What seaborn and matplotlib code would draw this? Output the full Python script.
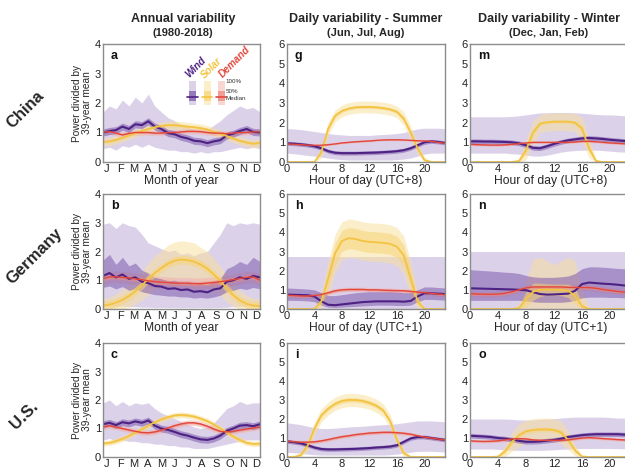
import numpy as np
import matplotlib
matplotlib.use('Agg')
import matplotlib.pyplot as plt
import seaborn as sns
from matplotlib.patches import Rectangle

sns.set_theme(style='white')
plt.rcParams['font.family'] = ['Liberation Sans', 'DejaVu Sans']

# ---- x axes ----
days = [1, 16, 31, 46, 61, 76, 91, 106, 121, 136, 152, 167, 182, 197, 212, 227, 243, 258, 273, 288, 303, 318, 334, 349, 365]
month_labels = ['J', 'F', 'M', 'A', 'M', 'J', 'J', 'A', 'S', 'O', 'N', 'D']
hours = list(range(24))
hour_ticks = [0, 4, 8, 12, 16, 20]

# ---- annual variability (median, bands) ----
# China
wind_a_med = [1.0, 1.05, 1.08, 1.2, 1.12, 1.28, 1.25, 1.38, 1.2, 1.12, 0.98, 0.94, 0.85, 0.8, 0.72, 0.7, 0.64, 0.7, 0.74, 0.9, 0.96, 1.05, 1.12, 1.02, 1.0]
wind_a_lo100 = [0.45, 0.5, 0.4, 0.55, 0.5, 0.6, 0.5, 0.6, 0.5, 0.45, 0.4, 0.4, 0.35, 0.35, 0.3, 0.35, 0.3, 0.35, 0.35, 0.4, 0.45, 0.5, 0.45, 0.5, 0.45]
wind_a_hi100 = [1.7, 1.9, 1.8, 2.1, 1.9, 2.2, 2.0, 2.3, 1.9, 1.7, 1.5, 1.4, 1.25, 1.2, 1.1, 1.15, 1.1, 1.25, 1.4, 1.6, 1.75, 1.9, 1.8, 1.85, 1.7]
solar_a_med = [0.68, 0.7, 0.75, 0.82, 0.9, 0.98, 1.05, 1.12, 1.18, 1.22, 1.25, 1.25, 1.23, 1.2, 1.18, 1.15, 1.1, 1.02, 0.95, 0.88, 0.8, 0.72, 0.66, 0.62, 0.65]
demand_a_med = [1.02, 1.03, 0.98, 0.92, 0.97, 1.0, 1.0, 1.0, 0.98, 0.98, 1.0, 1.0, 1.02, 1.04, 1.04, 1.03, 1.0, 0.98, 0.98, 0.96, 0.98, 1.0, 1.0, 1.02, 1.03]

# Germany
wind_b_med = [1.15, 1.25, 1.1, 1.2, 1.05, 1.1, 0.95, 0.9, 0.8, 0.78, 0.7, 0.72, 0.66, 0.68, 0.6, 0.62, 0.58, 0.68, 0.72, 0.95, 1.0, 1.1, 1.05, 1.15, 1.1]
wind_b_lo50 = [0.75, 0.8, 0.7, 0.78, 0.65, 0.7, 0.6, 0.55, 0.5, 0.48, 0.45, 0.45, 0.42, 0.42, 0.38, 0.4, 0.38, 0.42, 0.48, 0.6, 0.65, 0.72, 0.68, 0.75, 0.7]
wind_b_hi50 = [1.7, 1.9, 1.55, 1.8, 1.5, 1.6, 1.35, 1.25, 1.1, 1.05, 0.98, 1.0, 0.9, 0.92, 0.85, 0.88, 0.85, 0.95, 1.05, 1.4, 1.5, 1.65, 1.55, 1.8, 1.65]
wind_b_lo100 = [0.08, 0.1, 0.08, 0.1, 0.08, 0.08, 0.06, 0.06, 0.05, 0.05, 0.05, 0.05, 0.04, 0.05, 0.04, 0.05, 0.04, 0.05, 0.05, 0.06, 0.08, 0.08, 0.1, 0.08, 0.08]
wind_b_hi100 = [2.95, 3.0, 2.8, 3.0, 2.9, 2.85, 2.6, 2.3, 2.2, 2.1, 2.0, 2.05, 1.9, 1.95, 1.85, 1.95, 2.0, 2.3, 2.6, 3.0, 2.9, 3.0, 2.95, 3.0, 2.95]
solar_b_med = [0.12, 0.15, 0.22, 0.32, 0.45, 0.62, 0.82, 1.05, 1.25, 1.42, 1.58, 1.68, 1.72, 1.7, 1.65, 1.55, 1.4, 1.2, 0.98, 0.72, 0.48, 0.3, 0.18, 0.12, 0.1]
solar_b_w100 = [0.25, 0.25, 0.3, 0.35, 0.4, 0.45, 0.5, 0.55, 0.6, 0.6, 0.65, 0.65, 0.65, 0.65, 0.65, 0.6, 0.6, 0.55, 0.5, 0.45, 0.4, 0.35, 0.3, 0.25, 0.25]
demand_b_med = [1.05, 1.12, 1.12, 1.1, 1.08, 1.05, 1.02, 0.98, 0.95, 0.93, 0.92, 0.9, 0.9, 0.9, 0.88, 0.88, 0.9, 0.92, 0.95, 0.98, 1.02, 1.06, 1.1, 1.12, 1.0]

# U.S.
wind_c_med = [1.15, 1.2, 1.12, 1.22, 1.18, 1.25, 1.2, 1.28, 1.1, 1.0, 0.95, 0.88, 0.8, 0.75, 0.68, 0.62, 0.6, 0.65, 0.75, 0.92, 1.0, 1.1, 1.12, 1.08, 1.15]
wind_c_lo100 = [0.6, 0.65, 0.55, 0.6, 0.55, 0.55, 0.5, 0.5, 0.45, 0.45, 0.4, 0.4, 0.35, 0.35, 0.3, 0.3, 0.3, 0.35, 0.4, 0.45, 0.5, 0.55, 0.6, 0.6, 0.6]
wind_c_hi100 = [1.9, 2.0, 1.8, 1.95, 1.8, 1.9, 1.85, 1.9, 1.7, 1.55, 1.45, 1.35, 1.25, 1.15, 1.05, 1.0, 1.05, 1.2, 1.45, 1.7, 1.8, 1.95, 1.85, 1.9, 1.9]
solar_c_med = [0.48, 0.5, 0.56, 0.64, 0.74, 0.86, 0.98, 1.1, 1.22, 1.32, 1.4, 1.46, 1.48, 1.46, 1.42, 1.35, 1.26, 1.14, 1.0, 0.86, 0.72, 0.6, 0.5, 0.46, 0.47]
demand_c_med = [1.05, 1.1, 1.05, 1.0, 0.95, 0.9, 0.86, 0.85, 0.88, 0.94, 1.02, 1.1, 1.16, 1.2, 1.2, 1.16, 1.08, 0.98, 0.9, 0.88, 0.9, 0.94, 0.98, 1.02, 1.05]

# ---- daily variability, summer ----
wind_g_med = [0.95, 0.93, 0.9, 0.86, 0.8, 0.7, 0.55, 0.47, 0.45, 0.45, 0.45, 0.46, 0.47, 0.48, 0.5, 0.52, 0.55, 0.6, 0.7, 0.85, 1.0, 1.05, 1.02, 0.97]
wind_g_lo100 = [0.45, 0.42, 0.38, 0.33, 0.3, 0.25, 0.2, 0.15, 0.12, 0.1, 0.1, 0.1, 0.1, 0.1, 0.1, 0.1, 0.12, 0.15, 0.2, 0.3, 0.4, 0.45, 0.45, 0.45]
wind_g_hi100 = [1.7, 1.68, 1.65, 1.6, 1.55, 1.5, 1.45, 1.4, 1.38, 1.35, 1.35, 1.35, 1.35, 1.38, 1.4, 1.42, 1.45, 1.5, 1.6, 1.68, 1.72, 1.72, 1.72, 1.7]
solar_g_med = [0, 0, 0, 0, 0, 0.5, 1.7, 2.35, 2.6, 2.72, 2.78, 2.8, 2.8, 2.78, 2.74, 2.68, 2.55, 2.2, 1.5, 0.7, 0.1, 0, 0, 0]
solar_g_w50 = [0, 0, 0, 0, 0, 0.1, 0.12, 0.1, 0.08, 0.08, 0.08, 0.08, 0.08, 0.08, 0.08, 0.08, 0.1, 0.12, 0.12, 0.1, 0.05, 0, 0, 0]
solar_g_w100 = [0, 0, 0, 0, 0.05, 0.3, 0.35, 0.3, 0.3, 0.3, 0.3, 0.3, 0.3, 0.3, 0.3, 0.3, 0.3, 0.35, 0.35, 0.3, 0.15, 0.02, 0, 0]
demand_g_med = [0.92, 0.9, 0.88, 0.86, 0.85, 0.85, 0.88, 0.92, 0.97, 1.0, 1.03, 1.05, 1.07, 1.1, 1.12, 1.13, 1.13, 1.12, 1.1, 1.08, 1.07, 1.05, 1.0, 0.95]

wind_h_med = [0.75, 0.74, 0.73, 0.72, 0.65, 0.4, 0.22, 0.2, 0.24, 0.28, 0.32, 0.36, 0.38, 0.4, 0.4, 0.4, 0.4, 0.38, 0.42, 0.65, 0.82, 0.82, 0.8, 0.78]
wind_h_lo50 = [0.45, 0.45, 0.44, 0.42, 0.38, 0.2, 0.1, 0.08, 0.1, 0.12, 0.14, 0.16, 0.18, 0.2, 0.2, 0.2, 0.18, 0.18, 0.2, 0.38, 0.5, 0.5, 0.48, 0.46]
wind_h_hi50 = [1.1, 1.08, 1.06, 1.04, 1.0, 0.85, 0.7, 0.7, 0.75, 0.8, 0.85, 0.88, 0.9, 0.9, 0.9, 0.9, 0.88, 0.85, 0.85, 1.0, 1.15, 1.15, 1.12, 1.1]
wind_h_lo100 = [0.02] * 24
wind_h_hi100 = [2.7] * 24
solar_h_med = [0, 0, 0, 0, 0, 0.4, 1.6, 2.9, 3.55, 3.7, 3.65, 3.55, 3.5, 3.48, 3.45, 3.4, 3.25, 2.8, 1.6, 0.4, 0, 0, 0, 0]
solar_h_w50 = [0, 0, 0, 0, 0, 0.2, 0.5, 0.55, 0.55, 0.55, 0.55, 0.55, 0.55, 0.55, 0.55, 0.55, 0.55, 0.55, 0.5, 0.2, 0, 0, 0, 0]
solar_h_w100 = [0, 0, 0, 0, 0.05, 0.4, 0.9, 1.0, 1.0, 1.0, 1.0, 1.0, 1.0, 1.0, 1.0, 1.0, 1.0, 1.0, 0.9, 0.4, 0.05, 0, 0, 0]
demand_h_med = [0.72, 0.7, 0.68, 0.68, 0.7, 0.75, 0.85, 0.95, 1.0, 1.02, 1.02, 1.02, 1.0, 1.0, 0.98, 0.97, 0.96, 0.95, 0.92, 0.88, 0.85, 0.82, 0.78, 0.75]

wind_i_med = [0.82, 0.78, 0.72, 0.62, 0.5, 0.42, 0.4, 0.4, 0.41, 0.42, 0.43, 0.45, 0.47, 0.5, 0.52, 0.55, 0.62, 0.8, 0.98, 1.05, 1.05, 1.0, 0.95, 0.9]
wind_i_lo100 = [0.25, 0.22, 0.2, 0.15, 0.12, 0.1, 0.1, 0.1, 0.1, 0.1, 0.1, 0.1, 0.1, 0.1, 0.1, 0.12, 0.15, 0.2, 0.25, 0.3, 0.3, 0.3, 0.28, 0.26]
wind_i_hi100 = [1.8, 1.75, 1.7, 1.62, 1.55, 1.5, 1.5, 1.52, 1.55, 1.58, 1.6, 1.62, 1.65, 1.68, 1.7, 1.72, 1.75, 1.8, 1.85, 1.9, 1.9, 1.9, 1.88, 1.85]
solar_i_med = [0, 0, 0.1, 0.6, 1.5, 2.2, 2.55, 2.8, 2.95, 3.0, 3.0, 2.95, 2.85, 2.7, 2.45, 1.9, 0.9, 0.2, 0, 0, 0, 0, 0, 0]
solar_i_w50 = [0, 0, 0.05, 0.1, 0.12, 0.12, 0.12, 0.12, 0.12, 0.12, 0.12, 0.12, 0.12, 0.12, 0.12, 0.12, 0.12, 0.08, 0, 0, 0, 0, 0, 0]
solar_i_w100 = [0, 0.02, 0.15, 0.3, 0.35, 0.35, 0.35, 0.35, 0.35, 0.35, 0.35, 0.35, 0.35, 0.35, 0.35, 0.35, 0.3, 0.2, 0.05, 0, 0, 0, 0, 0]
demand_i_med = [0.85, 0.8, 0.78, 0.78, 0.8, 0.85, 0.92, 1.0, 1.07, 1.12, 1.18, 1.22, 1.26, 1.28, 1.3, 1.3, 1.28, 1.25, 1.2, 1.12, 1.05, 1.0, 0.95, 0.9]

# ---- daily variability, winter ----
wind_m_med = [1.05, 1.05, 1.04, 1.04, 1.03, 1.02, 1.0, 0.95, 0.85, 0.72, 0.7, 0.8, 0.92, 1.02, 1.1, 1.15, 1.2, 1.22, 1.2, 1.17, 1.13, 1.1, 1.07, 1.05]
wind_m_lo100 = [0.45, 0.45, 0.45, 0.45, 0.45, 0.45, 0.42, 0.4, 0.35, 0.3, 0.3, 0.35, 0.42, 0.5, 0.55, 0.58, 0.6, 0.6, 0.6, 0.58, 0.55, 0.52, 0.5, 0.48]
wind_m_hi100 = [2.3, 2.3, 2.3, 2.3, 2.3, 2.3, 2.32, 2.35, 2.4, 2.45, 2.5, 2.5, 2.52, 2.52, 2.52, 2.5, 2.48, 2.45, 2.42, 2.4, 2.4, 2.38, 2.35, 2.35]
solar_m_med = [0, 0, 0, 0, 0, 0, 0, 0.05, 0.6, 1.5, 1.95, 2.02, 2.05, 2.05, 2.05, 2.0, 1.7, 0.7, 0.05, 0, 0, 0, 0, 0]
solar_m_w50 = [0, 0, 0, 0, 0, 0, 0, 0.05, 0.2, 0.2, 0.1, 0.08, 0.08, 0.08, 0.08, 0.1, 0.2, 0.2, 0.05, 0, 0, 0, 0, 0]
solar_m_w100 = [0, 0, 0, 0, 0, 0, 0, 0.1, 0.5, 0.6, 0.45, 0.45, 0.45, 0.45, 0.45, 0.45, 0.6, 0.5, 0.1, 0, 0, 0, 0, 0]
demand_m_med = [0.9, 0.88, 0.87, 0.86, 0.86, 0.87, 0.9, 0.93, 0.97, 1.0, 1.0, 1.0, 1.0, 1.0, 1.0, 1.02, 1.05, 1.05, 1.03, 1.0, 0.97, 0.95, 0.93, 0.9]

wind_n_med = [1.08, 1.07, 1.06, 1.05, 1.04, 1.03, 1.02, 1.0, 0.98, 0.88, 0.78, 0.75, 0.76, 0.78, 0.8, 0.95, 1.3, 1.38, 1.35, 1.32, 1.3, 1.27, 1.23, 1.2]
wind_n_lo50 = [0.45, 0.45, 0.45, 0.45, 0.45, 0.45, 0.45, 0.45, 0.42, 0.38, 0.35, 0.35, 0.35, 0.35, 0.38, 0.45, 0.58, 0.62, 0.62, 0.62, 0.6, 0.6, 0.58, 0.56]
wind_n_hi50 = [2.05, 2.03, 2.0, 1.98, 1.95, 1.92, 1.9, 1.85, 1.75, 1.68, 1.65, 1.65, 1.65, 1.68, 1.72, 1.85, 2.1, 2.2, 2.2, 2.18, 2.15, 2.12, 2.1, 2.08]
wind_n_lo100 = [0.02] * 24
wind_n_hi100 = [3.0] * 24
solar_n_med = [0, 0, 0, 0, 0, 0, 0, 0.05, 0.5, 0.9, 1.0, 1.02, 1.0, 1.0, 0.95, 0.7, 0.15, 0, 0, 0, 0, 0, 0, 0]
solar_n_w50 = [0, 0, 0, 0, 0, 0, 0, 0.05, 0.4, 0.45, 0.35, 0.3, 0.3, 0.3, 0.35, 0.45, 0.15, 0, 0, 0, 0, 0, 0, 0]
solar_n_w100 = [0, 0, 0, 0, 0, 0, 0, 0.2, 1.0, 1.7, 1.7, 1.5, 1.3, 1.5, 1.75, 1.8, 0.85, 0.1, 0, 0, 0, 0, 0, 0]
demand_n_med = [0.8, 0.78, 0.77, 0.77, 0.78, 0.82, 0.9, 1.0, 1.1, 1.15, 1.15, 1.15, 1.15, 1.15, 1.13, 1.12, 1.12, 1.12, 1.08, 1.02, 0.97, 0.92, 0.88, 0.85]

wind_o_med = [1.12, 1.1, 1.08, 1.05, 1.0, 0.97, 0.92, 0.85, 0.8, 0.8, 0.82, 0.86, 0.9, 0.96, 1.05, 1.1, 1.15, 1.18, 1.2, 1.2, 1.2, 1.2, 1.18, 1.15]
wind_o_lo100 = [0.42, 0.42, 0.42, 0.42, 0.4, 0.38, 0.36, 0.35, 0.35, 0.35, 0.35, 0.36, 0.38, 0.4, 0.42, 0.44, 0.45, 0.45, 0.45, 0.45, 0.45, 0.44, 0.43, 0.42]
wind_o_hi100 = [2.0, 2.0, 2.0, 2.0, 2.0, 2.0, 1.98, 1.95, 1.95, 1.95, 1.98, 2.0, 2.02, 2.05, 2.08, 2.1, 2.1, 2.1, 2.1, 2.1, 2.08, 2.05, 2.05, 2.02]
solar_o_med = [0, 0, 0, 0, 0.02, 0.3, 0.8, 1.15, 1.35, 1.42, 1.45, 1.45, 1.42, 1.3, 0.9, 0.35, 0.03, 0, 0, 0, 0, 0, 0, 0]
solar_o_w50 = [0, 0, 0, 0, 0.02, 0.12, 0.15, 0.15, 0.12, 0.12, 0.12, 0.12, 0.12, 0.15, 0.15, 0.12, 0.03, 0, 0, 0, 0, 0, 0, 0]
solar_o_w100 = [0, 0, 0, 0, 0.05, 0.3, 0.5, 0.6, 0.6, 0.6, 0.6, 0.6, 0.6, 0.6, 0.5, 0.3, 0.05, 0, 0, 0, 0, 0, 0, 0]
demand_o_med = [0.85, 0.83, 0.82, 0.83, 0.85, 0.9, 0.95, 0.97, 0.95, 0.9, 0.88, 0.88, 0.88, 0.88, 0.9, 0.95, 1.0, 1.02, 1.0, 0.97, 0.95, 0.92, 0.9, 0.87]

# ---- styles ----
WIND = dict(line='#4e2283', q50='#7f5aad', q100='#b9a6d6', lw=1.5)
SOLAR = dict(line='#f3c341', q50='#f7d677', q100='#f9df98', lw=1.3)
DEMAND = dict(line='#e3473c', q50='#ec8a80', q100='#f3b0a8', lw=1.0)


def around(med, w):
    med = np.asarray(med, float)
    w = np.asarray(w, float)
    return np.clip(med - w, 0, None), med + w


def draw(ax, x, series):
    for st, med, q50, q100 in series:
        ax.fill_between(x, q100[0], q100[1], color=st['q100'], alpha=0.5, lw=0)
    for st, med, q50, q100 in series:
        ax.fill_between(x, q50[0], q50[1], color=st['q50'], alpha=0.55, lw=0)
    for st, med, q50, q100 in series:
        sns.lineplot(x=x, y=med, ax=ax, color=st['line'], linewidth=st['lw'], legend=False)


panels = {
    'a': [(WIND, wind_a_med, around(wind_a_med, 0.12), (wind_a_lo100, wind_a_hi100)),
          (SOLAR, solar_a_med, around(solar_a_med, 0.05), around(solar_a_med, 0.14)),
          (DEMAND, demand_a_med, around(demand_a_med, 0.03), around(demand_a_med, 0.09))],
    'b': [(WIND, wind_b_med, (wind_b_lo50, wind_b_hi50), (wind_b_lo100, wind_b_hi100)),
          (SOLAR, solar_b_med, around(solar_b_med, 0.15), around(solar_b_med, solar_b_w100)),
          (DEMAND, demand_b_med, around(demand_b_med, 0.08), around(demand_b_med, 0.2))],
    'c': [(WIND, wind_c_med, around(wind_c_med, 0.12), (wind_c_lo100, wind_c_hi100)),
          (SOLAR, solar_c_med, around(solar_c_med, 0.05), around(solar_c_med, 0.1)),
          (DEMAND, demand_c_med, around(demand_c_med, 0.04), around(demand_c_med, 0.1))],
    'g': [(WIND, wind_g_med, around(wind_g_med, 0.1), (wind_g_lo100, wind_g_hi100)),
          (SOLAR, solar_g_med, around(solar_g_med, solar_g_w50), around(solar_g_med, solar_g_w100)),
          (DEMAND, demand_g_med, around(demand_g_med, 0.02), around(demand_g_med, 0.05))],
    'h': [(WIND, wind_h_med, (wind_h_lo50, wind_h_hi50), (wind_h_lo100, wind_h_hi100)),
          (SOLAR, solar_h_med, around(solar_h_med, solar_h_w50), around(solar_h_med, solar_h_w100)),
          (DEMAND, demand_h_med, around(demand_h_med, 0.06), around(demand_h_med, 0.12))],
    'i': [(WIND, wind_i_med, around(wind_i_med, 0.1), (wind_i_lo100, wind_i_hi100)),
          (SOLAR, solar_i_med, around(solar_i_med, solar_i_w50), around(solar_i_med, solar_i_w100)),
          (DEMAND, demand_i_med, around(demand_i_med, 0.05), around(demand_i_med, 0.1))],
    'm': [(WIND, wind_m_med, around(wind_m_med, 0.12), (wind_m_lo100, wind_m_hi100)),
          (SOLAR, solar_m_med, around(solar_m_med, solar_m_w50), around(solar_m_med, solar_m_w100)),
          (DEMAND, demand_m_med, around(demand_m_med, 0.03), around(demand_m_med, 0.06))],
    'n': [(WIND, wind_n_med, (wind_n_lo50, wind_n_hi50), (wind_n_lo100, wind_n_hi100)),
          (SOLAR, solar_n_med, around(solar_n_med, solar_n_w50), around(solar_n_med, solar_n_w100)),
          (DEMAND, demand_n_med, around(demand_n_med, 0.08), around(demand_n_med, 0.15))],
    'o': [(WIND, wind_o_med, around(wind_o_med, 0.12), (wind_o_lo100, wind_o_hi100)),
          (SOLAR, solar_o_med, around(solar_o_med, solar_o_w50), around(solar_o_med, solar_o_w100)),
          (DEMAND, demand_o_med, around(demand_o_med, 0.04), around(demand_o_med, 0.08))],
}

letters = [['a', 'g', 'm'], ['b', 'h', 'n'], ['c', 'i', 'o']]
xlabels = [['Month of year', 'Hour of day (UTC+8)', 'Hour of day (UTC+8)'],
           ['Month of year', 'Hour of day (UTC+1)', 'Hour of day (UTC+1)'],
           [None, None, None]]
countries = ['China', 'Germany', 'U.S.']

W, H = 625, 472
col_left = [103, 287, 470]
col_w = [157, 158, 161]
row_top = [44, 194, 343]
row_h = [118, 115, 114]

fig = plt.figure(figsize=(6.25, 4.72), dpi=100)
axes = [[None] * 3 for _ in range(3)]
for r in range(3):
    for c in range(3):
        ax = fig.add_axes([col_left[c] / W, 1 - (row_top[r] + row_h[r]) / H, col_w[c] / W, row_h[r] / H])
        axes[r][c] = ax
        let = letters[r][c]
        if c == 0:
            draw(ax, days, panels[let])
            ax.set_xlim(1, 365)
            ax.set_ylim(0, 4)
            ax.set_yticks([0, 1, 2, 3, 4])
            ax.set_xticks(np.linspace(10, 357, 12))
            ax.set_xticklabels(month_labels)
            ax.set_ylabel('Power divided by\n39-year mean', fontsize=7.3, labelpad=2, linespacing=1.0)
        else:
            draw(ax, hours, panels[let])
            ax.set_xlim(0, 23)
            ax.set_ylim(0, 6)
            ax.set_yticks([0, 1, 2, 3, 4, 5, 6])
            ax.set_xticks(hour_ticks)
            ax.set_ylabel('')
        if xlabels[r][c]:
            ax.set_xlabel(xlabels[r][c], fontsize=8.7, labelpad=1)
        else:
            ax.set_xlabel('')
        ax.tick_params(length=0, labelsize=8, pad=1.5, colors='#222222')
        for s in ax.spines.values():
            s.set_color('#8c8c8c')
            s.set_linewidth(1.0)
        ax.text(0.05, 0.95, let, transform=ax.transAxes, fontsize=9, fontweight='bold',
                va='top', ha='left', color='#111111')

# column titles
titles = [('Annual variability', '(1980-2018)'),
          ('Daily variability - Summer', '(Jun, Jul, Aug)'),
          ('Daily variability - Winter', '(Dec, Jan, Feb)')]
title_x = [183, 366, 549]
for (t1, t2), xc in zip(titles, title_x):
    fig.text(xc / W, 1 - 19 / H, t1, ha='center', va='center', fontsize=9, fontweight='bold')
    fig.text(xc / W, 1 - 33 / H, t2, ha='center', va='center', fontsize=8, fontweight='bold')

# row labels
row_lab_pos = [(25, 110), (35, 256), (24, 415)]
for name, (px, py) in zip(countries, row_lab_pos):
    fig.text(px / W, 1 - py / H, name, rotation=45, ha='center', va='center',
             fontsize=12, fontweight='bold')

# legend in panel a
ax = axes[0][0]
cols = [(WIND, 0.548, 'Wind', 0.592, 0.80), (SOLAR, 0.643, 'Solar', 0.69, 0.80),
        (DEMAND, 0.732, 'Demand', 0.84, 0.845)]
for st, x0, word, tx, ty in cols:
    ax.add_patch(Rectangle((x0, 0.486), 0.042, 0.20, transform=ax.transAxes,
                           color=st['q100'], alpha=0.5, lw=0))
    ax.add_patch(Rectangle((x0, 0.517), 0.042, 0.087, transform=ax.transAxes,
                           color=st['q50'], alpha=0.75, lw=0))
    ax.plot([x0 - 0.012, x0 + 0.054], [0.548, 0.548], transform=ax.transAxes,
            color=st['line'], lw=1.2)
    ax.text(tx, ty, word, transform=ax.transAxes, rotation=45, ha='center', va='center',
            fontsize=7.2, fontweight='bold', fontstyle='italic', color=st['line'])
for lab, yy in [('100%', 0.68), ('50%', 0.60), ('Median', 0.54)]:
    ax.text(0.78, yy, lab, transform=ax.transAxes, fontsize=4.5, va='center', ha='left',
            color='#333333')

fig.savefig('out.png', dpi=100)
